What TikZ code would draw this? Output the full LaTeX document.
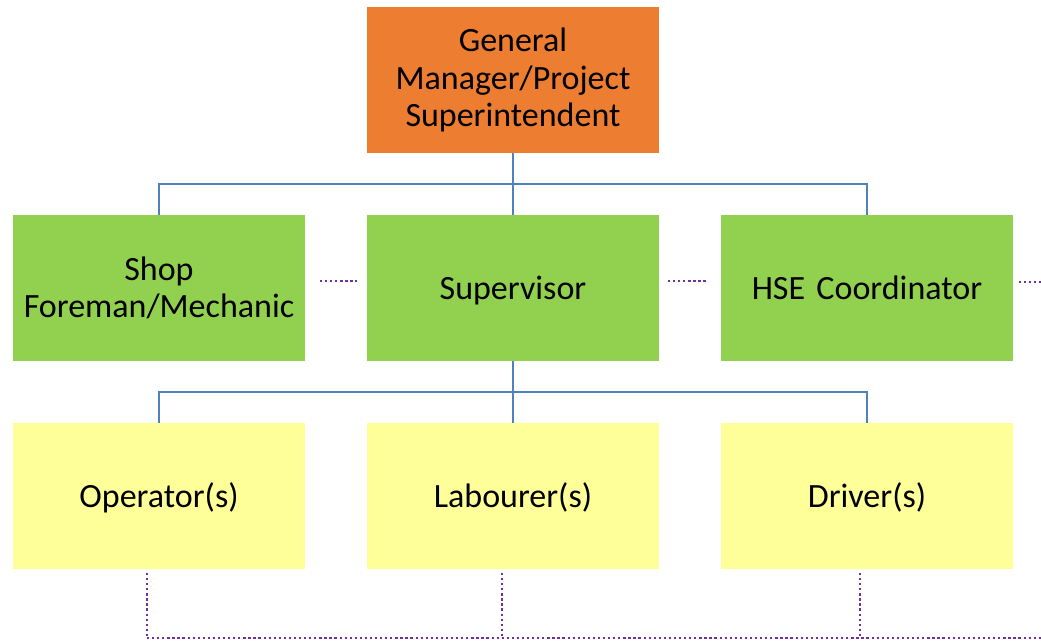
\documentclass[tikz,border=0pt]{standalone}
\usepackage{fontspec}
\setmainfont{Carlito}
\definecolor{gmorange}{HTML}{ED7D31}
\definecolor{boxgreen}{HTML}{92D050}
\definecolor{boxyellow}{HTML}{FFFF99}
\definecolor{linkblue}{HTML}{4F81BD}
\definecolor{dotpurple}{HTML}{7030A0}
\begin{document}
\begin{tikzpicture}[x=0.75pt,y=-0.75pt,
  box/.style={minimum width=219pt,minimum height=109.5pt,inner sep=0pt,
    text width=210pt,align=center,font=\fontsize{25.5}{28.25}\selectfont},
  oneline/.style={text height=21pt,text depth=4pt},
  gmbox/.style={box,fill=gmorange},
  greenbox/.style={box,fill=boxgreen},
  yellowbox/.style={box,fill=boxyellow},
  conn/.style={draw=linkblue,line width=1.6pt},
  dotline/.style={draw=dotpurple,line width=1.8pt,dash pattern=on 1.7pt off 2.1pt}]
\useasboundingbox (0,0) rectangle (1041,641);
\node[gmbox] (gm) at (513,80) {General\\Manager/Project\\Superintendent};
\node[greenbox] (shop) at (159,288) {Shop\\Foreman/Mechanic};
\node[greenbox,oneline] (sup) at (513,288) {Supervisor};
\node[greenbox,oneline] (hse) at (867,288) {HSE Coordinator};
\node[yellowbox,oneline] (op) at (159,496) {Operator(s)};
\node[yellowbox,oneline] (lab) at (513,496) {Labourer(s)};
\node[yellowbox,oneline] (drv) at (867,496) {Driver(s)};
% blue connectors
\coordinate (j1) at (513,184);
\draw[conn] (gm.south) -- (j1);
\draw[conn] (j1) -| (shop.north);
\draw[conn] (j1) -| (hse.north);
\draw[conn] (j1) -- (sup.north);
\coordinate (j2) at (513,392);
\draw[conn] (sup.south) -- (j2);
\draw[conn] (j2) -| (op.north);
\draw[conn] (j2) -| (drv.north);
\draw[conn] (j2) -- (lab.north);
% dotted purple links
\coordinate (d1a) at (320,281);
\coordinate (d1b) at (357,281);
\coordinate (d2a) at (668,281);
\coordinate (d2b) at (706,281);
\coordinate (d3a) at (1019,282);
\coordinate (d3b) at (1041,282);
\draw[dotline] (d1a) -- (d1b);
\draw[dotline] (d2a) -- (d2b);
\draw[dotline] (d3a) -- (d3b);
\coordinate (b1) at (147,573);
\coordinate (b2) at (502,573);
\coordinate (b3) at (860,573);
\coordinate (e1) at (147,638);
\coordinate (e2) at (502,638);
\coordinate (e3) at (860,638);
\coordinate (e4) at (1041,638);
\draw[dotline] (b1) -- (e1);
\draw[dotline] (b2) -- (e2);
\draw[dotline] (b3) -- (e3);
\draw[dotline] (e1) -- (e4);
\end{tikzpicture}
\end{document}
